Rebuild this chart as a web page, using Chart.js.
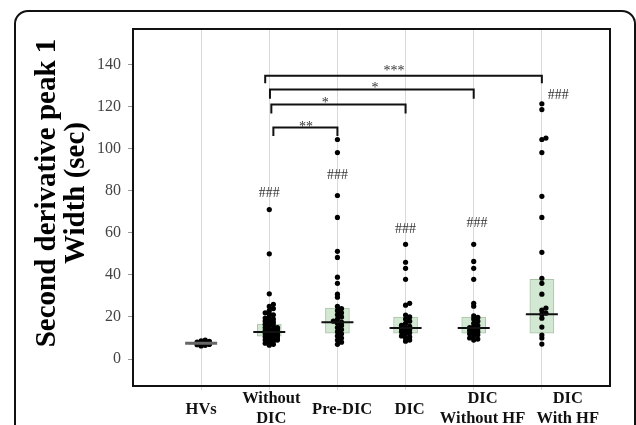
<!DOCTYPE html>
<html>
<head>
<meta charset="utf-8">
<script src="https://cdn.jsdelivr.net/npm/chart.js@4.4.1/dist/chart.umd.min.js"></script>
<style>
  html, body { margin: 0; padding: 0; background: #fff; overflow: hidden; }
  #wrap { position: relative; width: 636px; height: 425px; }
  #frame { position: absolute; left: 14px; top: 10px; width: 618px; height: 480px;
           border: 2px solid #111; border-radius: 14px; }
  #chart { position: absolute; left: 0; top: 0; }
</style>
</head>
<body>
<div id="wrap"><div id="frame"></div><canvas id="chart" width="636" height="425"></canvas></div>
<script>
// groups, in order along x (positions 1..6)
const groups = ["HVs", ["Without", "DIC"], "Pre-DIC", "DIC", ["DIC", "Without HF"], ["DIC", "With HF"]];

// individual values (sec)
const hvs = [6.2, 6.5, 6.8, 7.0, 7.1, 7.2, 7.3, 7.4, 7.5, 7.5, 7.6, 7.7, 7.8, 8.0, 8.2, 8.4, 8.7, 9.0];
const withoutDic = [71, 50, 31, 26, 25, 24, 23, 22, 21.5, 21, 20, 19.5, 19, 18.5, 18, 17.5, 17, 16.5, 16,
                    15.5, 15, 15, 14.5, 14, 14, 13.5, 13, 13, 12.8, 12.5, 12, 12, 11.5, 11, 11, 10.5, 10,
                    10, 9.5, 9, 9, 8.5, 8, 7.5, 7, 6.6];
const preDic = [104.3, 98.1, 77.7, 67.3, 51.2, 48.3, 38.9, 36, 30.8, 29.4, 25, 24, 23, 22, 21, 20, 19, 18,
                17.5, 17, 16, 15, 14, 13, 12, 11, 10, 9, 8, 7];
const dic = [54.5, 46, 43.1, 37.9, 26.5, 25.6, 20.9, 20, 19, 18, 17, 16, 15.5, 15, 14.5, 14, 13.5, 13,
             12.5, 12, 11, 10.5, 10, 9, 8.5];
const dicWithoutHf = [54.5, 46.4, 43.1, 37.9, 26.5, 25.1, 20.5, 19.8, 19, 18, 17, 16, 15.5, 15, 14.5, 14,
                      13.5, 13, 12.5, 12, 11.5, 11, 10, 9.5, 9];
const dicWithHf = [121.3, 118.5, 105, 104.3, 98.1, 77.3, 67.3, 50.7, 38.4, 36, 30.8, 24.2, 23.2, 21.8,
                   21.3, 19.4, 15.2, 11.4, 10, 7.1];
const groupValues = [hvs, withoutDic, preDic, dic, dicWithoutHf, dicWithHf];

// box (interquartile range) and median per group
const q1 = [7.1, 10.9, 12.3, 12.3, 12.3, 12.3];
const q3 = [7.9, 16.6, 24.2, 19.9, 19.9, 37.9];
const medians = [7.5, 12.8, 17.5, 14.7, 14.7, 21.3];

const yTicks = [0, 20, 40, 60, 80, 100, 120, 140];

// "###" marks (vs HVs)
const hashX = [2, 3, 4, 5.05, 6.24];
const hashY = [78.9, 87.4, 61.8, 64.6, 125.4];

// significance brackets between groups
const bracketFrom = [1.94, 2.01, 2.03, 2.06];
const bracketTo = [6, 5, 4, 3];
const bracketTop = [134.6, 128.0, 120.9, 110.0];
const bracketEnd = [131.0, 123.7, 116.6, 106.0];
const bracketLabel = ["***", "*", "*", "**"];
const starX = [3.83, 3.55, 2.82, 2.54];
const starY = [138.7, 130.6, 123.5, 112.0];

// where each group name sits along x (the last ones are pushed right in the original)
const labelX = [1, 2.03, 3.07, 4.06, 5.13, 6.38];

// small horizontal spread so stacked points don't sit exactly on each other
function swarm(values, center) {
    const placed = [];
    const step = 0.03;
    [...values].sort((a, b) => a - b).forEach(v => {
        let k = 0, dx = 0;
        while (true) {
            dx = (k % 2 === 1 ? 1 : -1) * Math.ceil(k / 2) * step;
            const hit = placed.some(p => Math.abs(p.x - (center + dx)) < 0.05 && Math.abs(p.y - v) < 1.1);
            if (!hit || k > 6) break;
            k++;
        }
        placed.push({ x: center + dx, y: v });
    });
    return placed;
}

const points = [];
groupValues.forEach((vals, i) => points.push(...swarm(vals, i + 1)));

const boxes = groups.map((g, i) => ({ x: i + 1, y: [q1[i], q3[i]] }));
const medianPts = groups.map((g, i) => ({ x: i + 1, y: medians[i] }));

const bracketSets = bracketFrom.map((f, i) => ({
    type: "line",
    data: [
        { x: f, y: bracketEnd[i] }, { x: f, y: bracketTop[i] },
        { x: bracketTo[i], y: bracketTop[i] }, { x: bracketTo[i], y: bracketEnd[i] }
    ],
    showLine: true,
    borderColor: "#111",
    borderWidth: 2,
    pointRadius: 0,
    fill: false,
    tension: 0,
    order: 3
}));

const serif = "'Liberation Serif', 'Times New Roman', serif";

const frameBox = {
    id: "frameBox",
    afterDraw(chart) {
        const { ctx, chartArea: a } = chart;
        ctx.save();
        ctx.strokeStyle = "#111";
        ctx.lineWidth = 2;
        ctx.strokeRect(a.left, a.top, a.right - a.left, a.bottom - a.top);
        ctx.restore();
    }
};

const marks = {
    id: "marks",
    afterDatasetsDraw(chart) {
        const { ctx, scales: { x, y } } = chart;
        ctx.save();
        ctx.fillStyle = "#333";
        ctx.textAlign = "center";
        ctx.textBaseline = "middle";
        ctx.font = "14px " + serif;
        hashX.forEach((hx, i) => ctx.fillText("###", x.getPixelForValue(hx), y.getPixelForValue(hashY[i])));
        starX.forEach((sx, i) => ctx.fillText(bracketLabel[i], x.getPixelForValue(sx), y.getPixelForValue(starY[i]) + 4));
        ctx.restore();
    },
    afterDraw(chart) {
        // group names under the axis
        const { ctx, chartArea: a, scales: { x } } = chart;
        ctx.save();
        ctx.fillStyle = "#111";
        ctx.textAlign = "center";
        ctx.textBaseline = "middle";
        ctx.font = "bold 16.5px " + serif;
        groups.forEach((g, i) => {
            const px = x.getPixelForValue(labelX[i]);
            if (Array.isArray(g)) {
                ctx.fillText(g[0], px, a.bottom + 13);
                ctx.fillText(g[1], px, a.bottom + 33);
            } else {
                ctx.fillText(g, px, a.bottom + 24);
            }
        });
        ctx.restore();
    }
};

new Chart(document.getElementById("chart"), {
    type: "scatter",
    data: {
        datasets: [
            {
                type: "scatter",
                data: medianPts,
                pointStyle: "line",
                pointRadius: 16,
                pointHoverRadius: 16,
                borderColor: ["#666", "#111", "#111", "#111", "#111", "#111"],
                borderWidth: [3, 2, 2, 2, 2, 2],
                order: 0
            },
            {
                type: "scatter",
                data: points,
                pointRadius: 2.6,
                backgroundColor: "#000",
                borderColor: "#000",
                borderWidth: 0,
                order: 1
            },
            {
                type: "bar",
                data: boxes,
                barThickness: 24,
                backgroundColor: ["#8a8a8a", "#d3e8d3", "#d3e8d3", "#d3e8d3", "#d3e8d3", "#d3e8d3"],
                borderColor: ["#777", "#a9c4a9", "#a9c4a9", "#a9c4a9", "#a9c4a9", "#a9c4a9"],
                borderWidth: 1,
                borderSkipped: false,
                order: 2
            },
            ...bracketSets
        ]
    },
    options: {
        responsive: false,
        animation: false,
        layout: { padding: { left: 20, top: 29, right: 26, bottom: 0 } },
        plugins: { legend: { display: false }, tooltip: { enabled: false } },
        scales: {
            x: {
                type: "linear",
                min: 0,
                max: 7,
                offset: false,
                afterBuildTicks: s => { s.ticks = groups.map((g, i) => ({ value: i + 1 })); },
                afterFit: s => { s.height = 39; },
                grid: { color: "#d9d9d9", lineWidth: 1, tickLength: 4, offset: false },
                border: { display: false },
                ticks: { display: false }
            },
            y: {
                min: -12.8,
                max: 156.8,
                afterBuildTicks: s => { s.ticks = yTicks.map(v => ({ value: v })); },
                afterFit: s => { s.width = 113; },
                grid: { drawOnChartArea: false, color: "#999", tickLength: 5 },
                border: { display: false },
                ticks: {
                    padding: 7,
                    color: "#444",
                    font: { family: serif, size: 16 }
                },
                title: {
                    display: true,
                    text: ["    Second derivative peak 1", "    Width (sec)"],
                    color: "#000",
                    padding: { top: 13, bottom: 0 },
                    font: { family: serif, size: 29, weight: "bold", lineHeight: 1 }
                }
            }
        }
    },
    plugins: [frameBox, marks]
});
</script>
</body>
</html>
